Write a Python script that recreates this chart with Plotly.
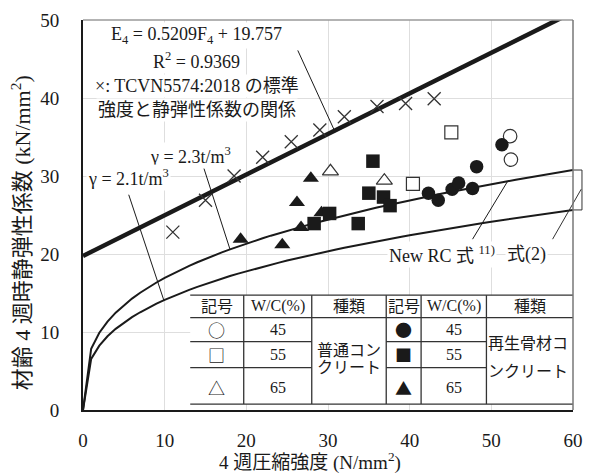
import numpy as np
import plotly.graph_objects as go

# ---- data -----------------------------------------------------------------
# TCVN5574:2018 standard strength vs. static modulus
tcvn_f = [11.0, 15.0, 18.5, 22.0, 25.5, 29.0, 32.0, 36.0, 39.5, 43.0]
tcvn_e = [22.8, 26.9, 30.0, 32.4, 34.4, 35.9, 37.6, 38.9, 39.3, 39.9]

# normal concrete (open symbols)
nc45_f = [52.3, 52.4]
nc45_e = [35.1, 32.1]
nc55_f = [40.4, 45.1]
nc55_e = [29.0, 35.6]
nc65_f = [30.3, 36.9]
nc65_e = [30.6, 29.4]

# recycled aggregate concrete (filled symbols)
rc45_f = [42.3, 43.5, 45.2, 46.0, 47.7, 48.2, 51.3]
rc45_e = [27.8, 26.9, 28.3, 29.1, 28.4, 31.2, 34.0]
rc55_f = [28.3, 30.2, 33.7, 35.0, 35.5, 36.8, 37.6]
rc55_e = [23.9, 25.2, 23.9, 27.8, 31.9, 27.3, 26.2]
rc65_f = [19.3, 24.4, 26.7, 26.2, 27.9, 29.2]
rc65_e = [21.9, 21.2, 23.4, 26.6, 29.7, 25.3]

# regression of the TCVN relation
reg_slope = 0.5209
reg_icept = 19.757

# New RC design equation  E = 33.5 (γ/2.4)^2 (F/60)^(1/3)
newrc_coef = 33.5
gamma_hi = 2.3
gamma_lo = 2.1
strength_grid = list(range(0, 61))

x_ticks = [0, 10, 20, 30, 40, 50, 60]
y_ticks = [0, 10, 20, 30, 40, 50]

table_header = ["記号", "W/C(%)", "種類", "記号", "W/C(%)", "種類"]
table_open_sym = ["○", "□", "△"]
table_fill_sym = ["●", "■", "▲"]
table_wc = ["45", "55", "65"]
table_kind_nc = ["普通コン", "クリート"]
table_kind_rc = ["再生骨材コ", "ンクリート"]

# ---- helpers --------------------------------------------------------------
SERIF = "'Liberation Serif', 'Times New Roman', 'Noto Sans CJK JP', serif"
CJK = "'Noto Sans CJK JP', sans-serif"
INK = "#1a1a1a"
X_RANGE = (0.0, 60.0)
Y_RANGE = (0.0, 50.0)


def newrc(f, gamma):
    f = np.asarray(f, dtype=float)
    return newrc_coef * (gamma / 2.4) ** 2 * (f / 60.0) ** (1.0 / 3.0)


def px(x):
    return (x - X_RANGE[0]) / (X_RANGE[1] - X_RANGE[0])


def py(y):
    return (y - Y_RANGE[0]) / (Y_RANGE[1] - Y_RANGE[0])


def leader(x0, y0, x1, y1, width=1.0, color=INK):
    # paper-referenced so it may run past the plotting area
    return dict(type="line", xref="paper", yref="paper",
                x0=px(x0), y0=py(y0), x1=px(x1), y1=py(y1),
                line=dict(color=color, width=width), layer="above")


def label(x, y, text, size=18, bg="white", xanchor="center", xref="x", yref="y",
          angle=0, family=SERIF):
    return dict(x=x, y=y, xref=xref, yref=yref, text=text, showarrow=False,
                font=dict(family=family, size=size, color=INK), bgcolor=bg,
                xanchor=xanchor, yanchor="middle", borderpad=1, textangle=angle)


fig = go.Figure()

# ---- curves ---------------------------------------------------------------
grid = np.array(strength_grid, dtype=float)
fig.add_trace(go.Scatter(x=grid, y=newrc(grid, gamma_hi), mode="lines",
                         line=dict(color=INK, width=2), showlegend=False))
fig.add_trace(go.Scatter(x=grid, y=newrc(grid, gamma_lo), mode="lines",
                         line=dict(color=INK, width=2), showlegend=False))
reg_x = np.array([0.0, 60.0])
fig.add_trace(go.Scatter(x=reg_x, y=reg_slope * reg_x + reg_icept, mode="lines",
                         line=dict(color=INK, width=4.5), showlegend=False))

# ---- points ---------------------------------------------------------------
def pts(fx, ey, symbol, filled, size):
    if filled:
        marker = dict(symbol=symbol, size=size, color=INK, line=dict(width=0))
    else:
        marker = dict(symbol=symbol, size=size, color="white",
                      line=dict(color="#333333", width=1.2))
    return go.Scatter(x=fx, y=ey, mode="markers", marker=marker, showlegend=False,
                      cliponaxis=False)


fig.add_trace(go.Scatter(x=tcvn_f, y=tcvn_e, mode="markers", showlegend=False,
                         marker=dict(symbol="x-thin-open", size=13, color="#333333",
                                     line=dict(color="#333333", width=1.3))))
fig.add_trace(pts(nc65_f, nc65_e, "triangle-up", False, 14))
fig.add_trace(pts(nc55_f, nc55_e, "square", False, 13))
fig.add_trace(pts(nc45_f, nc45_e, "circle", False, 13.5))
fig.add_trace(pts(rc65_f, rc65_e, "triangle-up", True, 14))
fig.add_trace(pts(rc55_f, rc55_e, "square", True, 13.5))
fig.add_trace(pts(rc45_f, rc45_e, "circle", True, 13.5))

# ---- annotations & leader lines -------------------------------------------
ann = []
shapes = []
ann.append(label(13.9, 48.0, "E<sub>4</sub> = 0.5209F<sub>4</sub> + 19.757"))
ann.append(label(13.9, 44.8, "R<sup>2</sup> = 0.9369"))
ann.append(label(13.9, 41.6, "×: TCVN5574:2018 の標準"))
ann.append(label(13.9, 38.45, "強度と静弾性係数の関係"))
shapes.append(leader(26.3, 46.1, 30.8, reg_slope * 30.8 + reg_icept))

ann.append(label(13.2, 32.6, "γ = 2.3t/m<sup>3</sup>"))
ann.append(label(5.6, 29.8, "γ = 2.1t/m<sup>3</sup>"))
shapes.append(leader(14.8, 31.0, 18.0, float(newrc(18.0, gamma_hi))))
shapes.append(leader(5.6, 27.6, 9.9, float(newrc(9.9, gamma_lo))))

ann.append(label(43.9, 19.9, "New RC 式 <sup>11)</sup>", size=18))
ann.append(label(54.3, 19.9, "式(2)", size=18))
shapes.append(leader(47.7, 21.9, 52.0, float(newrc(52.0, gamma_hi))))
shapes.append(leader(57.5, 21.9, 61.0, 28.3, color="#333333"))

# bracket joining the two curve ends
top_end = float(newrc(60.0, gamma_hi))
bot_end = float(newrc(60.0, gamma_lo))
shapes.append(leader(60.0, top_end, 61.1, top_end, color="#333333"))
shapes.append(leader(61.1, top_end, 61.1, bot_end, color="#333333"))
shapes.append(leader(61.1, bot_end, 60.0, bot_end, color="#333333"))

# axis titles
ann.append(label(0.463, -0.133, "4 週圧縮強度 (N/mm<sup>2</sup>)", size=19, bg=None,
                 xref="paper", yref="paper"))
ann.append(label(-0.127, 0.455, "材齢 4 週時静弾性係数 (kN/mm<sup>2</sup>)", size=22,
                 bg=None, xref="paper", yref="paper", angle=-90))

# ---- symbol table ---------------------------------------------------------
col_edges = [13.13, 19.68, 28.01, 37.13, 41.40, 49.40, 60.0]
row_top, row_head, row_1, row_2, row_bot = 14.72, 11.84, 8.76, 5.42, 0.76
col_mid = [(a + b) / 2 for a, b in zip(col_edges[:-1], col_edges[1:])]
row_mid = [10.3, 7.1, 2.9]

shapes.append(dict(type="rect", xref="x", yref="y", x0=col_edges[0], x1=60.0,
                   y0=row_bot, y1=row_top, fillcolor="white",
                   line=dict(width=0), layer="between"))
tline = dict(color="#333333", width=1.3)
for yy in (row_top, row_head, row_bot):
    shapes.append(dict(type="line", xref="x", yref="y", x0=col_edges[0], x1=60.0,
                       y0=yy, y1=yy, line=tline, layer="above"))
for yy in (row_1, row_2):
    for a, b in ((col_edges[0], col_edges[2]), (col_edges[3], col_edges[5])):
        shapes.append(dict(type="line", xref="x", yref="y", x0=a, x1=b,
                           y0=yy, y1=yy, line=tline, layer="above"))
for xx in col_edges[1:-1]:
    shapes.append(dict(type="line", xref="x", yref="y", x0=xx, x1=xx,
                       y0=row_bot, y1=row_top, line=tline, layer="above"))

for c, txt in zip(col_mid, table_header):
    ann.append(label(c, 13.3, txt, size=16, bg=None))
for r, so, sf, wc in zip(row_mid, table_open_sym, table_fill_sym, table_wc):
    ann.append(label(col_mid[0], r, so, size=17, bg=None, family=CJK))
    ann.append(label(col_mid[1], r, wc, size=16, bg=None))
    ann.append(label(col_mid[3], r, sf, size=17, bg=None, family=CJK))
    ann.append(label(col_mid[4], r, wc, size=16, bg=None))
ann.append(label(col_mid[2], 7.6, table_kind_nc[0], size=16, bg=None))
ann.append(label(col_mid[2], 5.5, table_kind_nc[1], size=16, bg=None))
ann.append(label(col_mid[5] - 0.2, 8.5, table_kind_rc[0], size=16, bg=None))
ann.append(label(col_mid[5] - 0.2, 4.9, table_kind_rc[1], size=16, bg=None))

# top and right frame
shapes.append(dict(type="line", xref="paper", yref="paper", x0=0, x1=1, y0=1, y1=1,
                   line=dict(color="#9a9a9a", width=1.5)))
shapes.append(dict(type="line", xref="paper", yref="paper", x0=1, x1=1, y0=0, y1=1,
                   line=dict(color="#777777", width=1.5)))

fig.update_layout(
    width=593, height=473,
    margin=dict(l=83, r=10, t=16, b=63),
    paper_bgcolor="white", plot_bgcolor="white",
    showlegend=False,
    annotations=ann, shapes=shapes,
    font=dict(family=SERIF, color=INK),
)
fig.update_xaxes(range=list(X_RANGE), tickvals=x_ticks, ticks="", showgrid=True,
                 gridcolor="#dedede", gridwidth=1, zeroline=False,
                 showline=True, linecolor=INK, linewidth=2,
                 tickfont=dict(family=SERIF, size=19, color=INK), ticklabelstandoff=12)
fig.update_yaxes(range=list(Y_RANGE), tickvals=y_ticks, ticks="", showgrid=True,
                 gridcolor="#dedede", gridwidth=1, zeroline=False,
                 showline=True, linecolor=INK, linewidth=2,
                 tickfont=dict(family=SERIF, size=19, color=INK), ticklabelstandoff=18)

fig.write_html("out.html")
